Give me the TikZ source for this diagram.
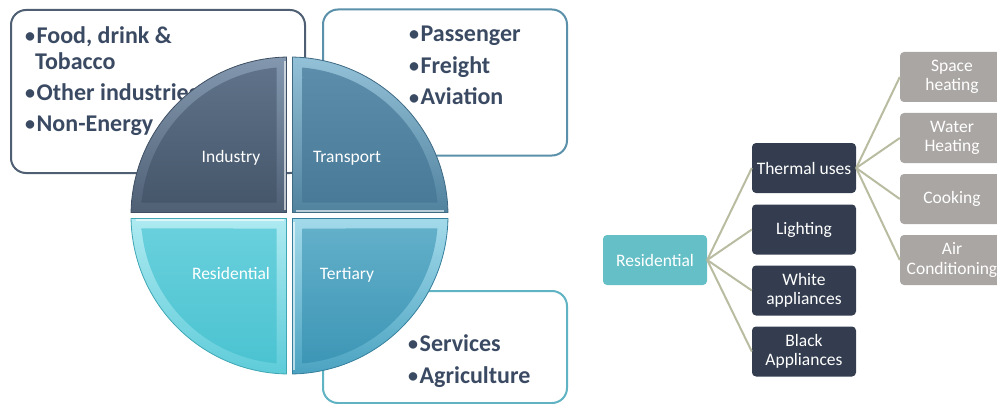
\documentclass[tikz,border=0pt]{standalone}
\usepackage{fontspec}
\setmainfont{Carlito}
\usetikzlibrary{calc}

\definecolor{ink}{HTML}{3B4A63}
\definecolor{indline}{HTML}{4F5F73}
\definecolor{traline}{HTML}{5A90AA}
\definecolor{terline}{HTML}{5FB3C3}
\definecolor{resfill}{HTML}{64BFC6}
\definecolor{darkfill}{HTML}{333D4F}
\definecolor{greyfill}{HTML}{AAA6A4}
\definecolor{linkcol}{HTML}{B9BCA0}

% disc quarter colours: rim top/bottom, face top/bottom, outline
\definecolor{indrimA}{HTML}{8398AF}\definecolor{indrimB}{HTML}{4F6075}
\definecolor{indfaceA}{HTML}{5F7289}\definecolor{indfaceB}{HTML}{46576B}
\definecolor{indedge}{HTML}{3F4F63}
\definecolor{trarimA}{HTML}{93C1D8}\definecolor{trarimB}{HTML}{51829E}
\definecolor{trafaceA}{HTML}{5C8DAB}\definecolor{trafaceB}{HTML}{497A97}
\definecolor{traedge}{HTML}{3F6A84}
\definecolor{resrimA}{HTML}{AEEAF1}\definecolor{resrimB}{HTML}{5ECCD9}
\definecolor{resfaceA}{HTML}{68D0DC}\definecolor{resfaceB}{HTML}{4CC3D1}
\definecolor{resedge}{HTML}{3FA6B4}
\definecolor{terrimA}{HTML}{A3DAEA}\definecolor{terrimB}{HTML}{4BA3C1}
\definecolor{terfaceA}{HTML}{62AFC9}\definecolor{terfaceB}{HTML}{3D96B6}
\definecolor{teredge}{HTML}{357F9C}

\tikzset{
  listbox/.style={rounded corners=15pt, line width=2pt, fill=white,
    inner sep=0pt},
  bullet/.style={anchor=base west, inner sep=0pt, text=ink,
    font=\fontsize{24}{28}\selectfont\bfseries},
  qlabel/.style={anchor=base, inner sep=0pt, text=white,
    font=\fontsize{17.5}{20}\selectfont},
  treebox/.style={rounded corners=4pt, minimum width=104pt,
    minimum height=50pt, inner sep=1pt, text=white, align=center,
    font=\fontsize{17.5}{19.5}\selectfont},
  resbox/.style={treebox, fill=resfill},
  usebox/.style={treebox, fill=darkfill},
  subbox/.style={treebox, fill=greyfill},
  link/.style={draw=linkcol, line width=2pt},
  glint/.style={draw=white, draw opacity=0.6, line width=1.6pt},
}

% small list bullet
\newcommand\dotitem{{\fontsize{20}{20}\selectfont\raisebox{1pt}{•}}\kern1.5pt}
% one quarter of the disc: corner, start angle, end angle, radius
\newcommand\quarterpath[4]{#1 -- (#2:#4) arc[start angle=#2, end angle=#3, radius=#4] -- cycle}
% bevelled quarter: colour prefix, outer corner, outer angles, inner corner, inner angles
\newcommand\bevelquarter[7]{%
  \shade[top color=#1rimA, bottom color=#1rimB, draw=#1edge, line width=0.8pt]
    \quarterpath{#2}{#3}{#4}{158.5pt};
  \shade[top color=#1faceA, bottom color=#1faceB]
    \quarterpath{#5}{#6}{#7}{148.5pt};
}

\begin{document}
\begin{tikzpicture}[x=1pt,y=1pt]
\useasboundingbox (0,0) rectangle (997,-404);
\clip (0,0) rectangle (997,-404);

% ---- category boxes behind the disc
\node[listbox, draw=indline, minimum width=294pt, minimum height=163pt]
  (indbox) at (158,-91.5) {};
\node[listbox, draw=traline, minimum width=244pt, minimum height=146pt]
  (trabox) at (445,-82.5) {};
\node[listbox, draw=terline, minimum width=244pt, minimum height=112pt]
  (terbox) at (445,-347) {};

\node[bullet] (food)  at (25,-43.5)  {\dotitem Food, drink \&};
\node[bullet] (tob)   at (35,-70)    {Tobacco};
\node[bullet] (other) at (25,-100.5) {\dotitem Other industries};
\node[bullet] (nonen) at (25,-131.5) {\dotitem Non-Energy};

\node[bullet] (pass)  at (409,-42)   {\dotitem Passenger};
\node[bullet] (frei)  at (409,-73.5) {\dotitem Freight};
\node[bullet] (avia)  at (409,-105)  {\dotitem Aviation};

\node[bullet] (serv)  at (408,-351.5) {\dotitem Services};
\node[bullet] (agri)  at (408,-383)   {\dotitem Agriculture};

% ---- the four-part disc
\begin{scope}[shift={(289.5,-215.5)}]
  \bevelquarter{ind}{(-3pt,3pt)}{91.085}{178.915}{(-13pt,13pt)}{95.022}{174.978}
  \bevelquarter{tra}{(3pt,3pt)}{1.085}{88.915}{(13pt,13pt)}{5.022}{84.978}
  \bevelquarter{res}{(-3pt,-3pt)}{181.085}{268.915}{(-13pt,-13pt)}{185.022}{264.978}
  \bevelquarter{ter}{(3pt,-3pt)}{271.085}{358.915}{(13pt,-13pt)}{275.022}{354.978}
  % light catching the straight edges beside the centre
  \draw[glint] (-4.5pt,6pt) -- (-4.5pt,154pt);
  \draw[glint] (6pt,4.5pt) -- (154pt,4.5pt);
  \draw[glint] (-6pt,-4.5pt) -- (-154pt,-4.5pt);
  \draw[glint] (4.5pt,-6pt) -- (4.5pt,-154pt);
\end{scope}

\node[qlabel] (lind) at (231,-162.5) {Industry};
\node[qlabel] (ltra) at (347,-162)   {Transport};
\node[qlabel] (lres) at (231,-279)   {Residential};
\node[qlabel] (lter) at (347,-279)   {Tertiary};

% ---- residential end-use tree
\node[resbox] (res) at (655,-260) {Residential};

\node[usebox] (therm) at (804,-168)   {Thermal uses};
\node[usebox] (light) at (804,-229.5) {Lighting};
\node[usebox] (white) at (804,-290.5) {White\\appliances};
\node[usebox] (black) at (804,-351.5) {Black\\Appliances};

\node[subbox] (space) at (952,-77)   {Space\\heating};
\node[subbox] (water) at (952,-138)  {Water\\Heating};
\node[subbox] (cook)  at (952,-199)  {Cooking};
\node[subbox] (air)   at (952,-260)  {Air\\Conditioning};

\foreach \t in {therm,light,white,black}
  \draw[link] (res.east) -- (\t.west);
\foreach \t in {space,water,cook,air}
  \draw[link] (therm.east) -- (\t.west);
\end{tikzpicture}
\end{document}
